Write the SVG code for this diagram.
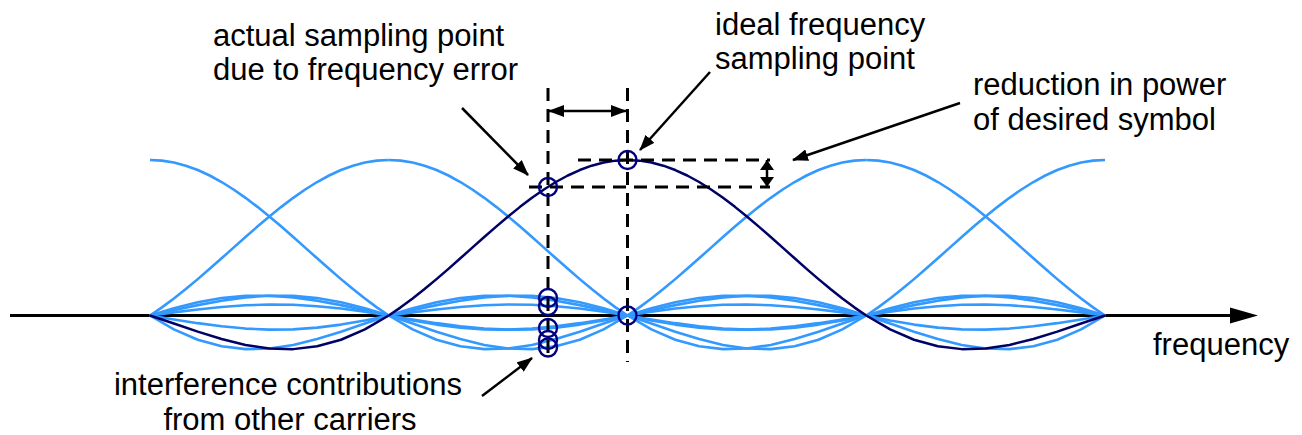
<svg xmlns="http://www.w3.org/2000/svg" xmlns:xlink="http://www.w3.org/1999/xlink" width="1302" height="435" viewBox="0 0 1302 435">
<style>
.lt{fill:none;stroke:#3399ff;stroke-width:2.6;stroke-linejoin:round}
.dk{fill:none;stroke:#000066;stroke-width:2.5;stroke-linejoin:round}
.dash{fill:none;stroke:#000;stroke-width:3;stroke-dasharray:13 8}
.pt{fill:none;stroke:#000;stroke-width:2.5}
.smp{fill:none;stroke:#000080;stroke-width:2.4}
text{font-family:"Liberation Sans",Arial,sans-serif;font-size:31px;fill:#000}
</style>
<defs>
<path id="main" d="M0,-155.5 L11.94,-154.86 L23.88,-152.95 L35.81,-149.81 L47.75,-145.47 L59.69,-140 L71.63,-133.48 L83.56,-126.01 L95.5,-117.69 L107.44,-108.64 L119.38,-98.99 L131.31,-88.89 L143.25,-78.46 L155.19,-67.85 L167.13,-57.21 L179.06,-46.67 L191,-36.37 L202.94,-26.44 L214.88,-16.99 L226.81,-8.15 L238.75,0"/>
<path id="sl1" d="M0,0 L23.88,-13.9 L47.75,-24.25 L71.63,-30.8 L95.5,-33.63 L119.38,-33 L143.25,-29.42 L167.13,-23.55 L191,-16.16 L214.88,-8.05 L238.75,0"/>
<path id="sl2" d="M0,0 L23.88,-7.28 L47.75,-13.23 L71.63,-17.41 L95.5,-19.61 L119.38,-19.8 L143.25,-18.11 L167.13,-14.83 L191,-10.39 L214.88,-5.27 L238.75,0"/>
<path id="sl3" d="M0,0 L23.88,-4.93 L47.75,-9.09 L71.63,-12.14 L95.5,-13.85 L119.38,-14.14 L143.25,-13.08 L167.13,-10.82 L191,-7.66 L214.88,-3.92 L238.75,0"/>
<path id="sl4" d="M0,0 L23.88,-3.73 L47.75,-6.93 L71.63,-9.31 L95.5,-10.7 L119.38,-11 L143.25,-10.23 L167.13,-8.52 L191,-6.06 L214.88,-3.12 L238.75,0"/>
<marker id="ah" viewBox="0 0 16 12" markerWidth="16" markerHeight="12" refX="15" refY="6" orient="auto-start-reverse" markerUnits="userSpaceOnUse"><path d="M0,0 L16,6 L0,12 z" fill="#000"/></marker>
<marker id="ah2" viewBox="0 0 10 14" markerWidth="10" markerHeight="14" refX="10" refY="7" orient="auto-start-reverse" markerUnits="userSpaceOnUse"><path d="M0,0 L10,7 L0,14 z" fill="#000"/></marker>
</defs>

<g id="axis">
<line x1="10" y1="315.5" x2="1235" y2="315.5" stroke="#000" stroke-width="3"/>
<polygon points="1230,307.5 1258,315.5 1230,323.5" fill="#000"/>
</g>

<g id="other-carriers">
<use xlink:href="#sl2" class="lt" transform="translate(150,315.5)"/>
<use xlink:href="#sl1" class="lt" transform="translate(150,315.5) scale(1,-1)"/>
<use xlink:href="#main" class="lt" transform="translate(150,315.5)"/>
<use xlink:href="#main" class="lt" transform="translate(388.75,315.5) scale(-1,1)"/>
<use xlink:href="#sl2" class="lt" transform="translate(388.75,315.5) scale(-1,1)"/>
<use xlink:href="#sl3" class="lt" transform="translate(388.75,315.5) scale(-1,-1)"/>
<use xlink:href="#sl4" class="lt" transform="translate(388.75,315.5) scale(-1,1)"/>

<use xlink:href="#sl3" class="lt" transform="translate(388.75,315.5) scale(1,-1)"/>
<use xlink:href="#sl2" class="lt" transform="translate(388.75,315.5)"/>
<use xlink:href="#sl1" class="lt" transform="translate(388.75,315.5) scale(1,-1)"/>
<use xlink:href="#main" class="lt" transform="translate(388.75,315.5)"/>
<use xlink:href="#sl1" class="lt" transform="translate(627.5,315.5) scale(-1,-1)"/>
<use xlink:href="#sl2" class="lt" transform="translate(627.5,315.5) scale(-1,1)"/>
<use xlink:href="#sl3" class="lt" transform="translate(627.5,315.5) scale(-1,-1)"/>
<use xlink:href="#sl4" class="lt" transform="translate(627.5,315.5) scale(-1,1)"/>

<use xlink:href="#sl4" class="lt" transform="translate(627.5,315.5)"/>
<use xlink:href="#sl3" class="lt" transform="translate(627.5,315.5) scale(1,-1)"/>
<use xlink:href="#sl2" class="lt" transform="translate(627.5,315.5)"/>
<use xlink:href="#sl1" class="lt" transform="translate(627.5,315.5) scale(1,-1)"/>
<use xlink:href="#main" class="lt" transform="translate(866.25,315.5) scale(-1,1)"/>
<use xlink:href="#sl1" class="lt" transform="translate(866.25,315.5) scale(-1,-1)"/>
<use xlink:href="#sl2" class="lt" transform="translate(866.25,315.5) scale(-1,1)"/>
<use xlink:href="#sl3" class="lt" transform="translate(866.25,315.5) scale(-1,-1)"/>

<use xlink:href="#sl4" class="lt" transform="translate(866.25,315.5)"/>
<use xlink:href="#sl3" class="lt" transform="translate(866.25,315.5) scale(1,-1)"/>
<use xlink:href="#sl2" class="lt" transform="translate(866.25,315.5)"/>
<use xlink:href="#main" class="lt" transform="translate(866.25,315.5)"/>
<use xlink:href="#main" class="lt" transform="translate(1105,315.5) scale(-1,1)"/>
<use xlink:href="#sl1" class="lt" transform="translate(1105,315.5) scale(-1,-1)"/>
<use xlink:href="#sl2" class="lt" transform="translate(1105,315.5) scale(-1,1)"/>
</g>

<g id="desired-carrier">
<use xlink:href="#sl1" class="dk" transform="translate(388.75,315.5) scale(-1,-1)"/>
<use xlink:href="#main" class="dk" transform="translate(627.5,315.5) scale(-1,1)"/>
<use xlink:href="#main" class="dk" transform="translate(627.5,315.5)"/>
<use xlink:href="#sl1" class="dk" transform="translate(866.25,315.5) scale(1,-1)"/>
</g>

<g id="connectors">
<line class="dash" x1="548" y1="88" x2="548" y2="358"/>
<line class="dash" x1="627.5" y1="88" x2="627.5" y2="362"/>
<line class="dash" x1="578" y1="160" x2="770" y2="160"/>
<line class="dash" x1="529" y1="187" x2="770" y2="187"/>
<line class="pt" x1="549" y1="111" x2="626" y2="111" marker-start="url(#ah)" marker-end="url(#ah)"/>
<line class="pt" x1="767" y1="160" x2="767" y2="187" marker-start="url(#ah2)" marker-end="url(#ah2)"/>
<line class="pt" x1="462" y1="108" x2="528" y2="175" marker-end="url(#ah)"/>
<line class="pt" x1="710" y1="72" x2="640" y2="150" marker-end="url(#ah)"/>
<line class="pt" x1="960" y1="103" x2="793" y2="160" marker-end="url(#ah)"/>
<line class="pt" x1="482" y1="396" x2="532" y2="358" marker-end="url(#ah)"/>
</g>

<g id="samples">
<circle class="smp" cx="548" cy="187" r="9"/>
<circle class="smp" cx="627.5" cy="160" r="9"/>
<circle class="smp" cx="627.5" cy="315.5" r="9"/>
<circle class="smp" cx="548" cy="298" r="9"/>
<circle class="smp" cx="548" cy="306" r="9"/>
<circle class="smp" cx="548" cy="328" r="9"/>
<circle class="smp" cx="548" cy="340" r="9"/>
<circle class="smp" cx="548" cy="347.5" r="9"/>
</g>

<g id="label-actual">
<text x="213" y="46">actual sampling point</text>
<text x="213" y="80">due to frequency error</text>
</g>
<g id="label-ideal">
<text x="715" y="35">ideal frequency</text>
<text x="715" y="69">sampling point</text>
</g>
<g id="label-reduction">
<text x="973" y="95">reduction in power</text>
<text x="973" y="130">of desired symbol</text>
</g>
<g id="label-interference">
<text x="288" y="395" text-anchor="middle">interference contributions</text>
<text x="290" y="430" text-anchor="middle">from other carriers</text>
</g>
<g id="label-axis">
<text x="1153" y="355">frequency</text>
</g>
</svg>
